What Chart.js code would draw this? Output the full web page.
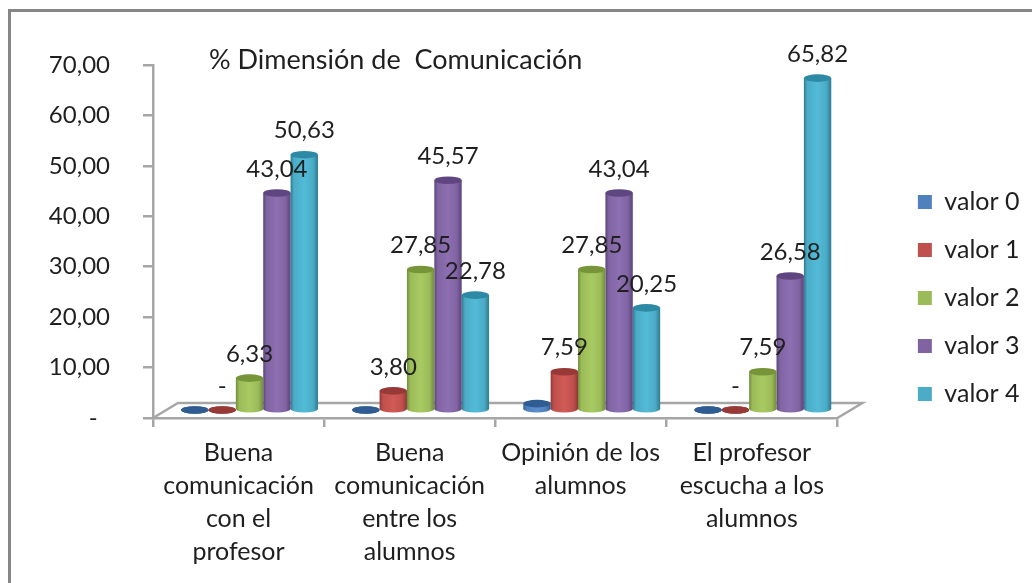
<!DOCTYPE html>
<html>
<head>
<meta charset="utf-8">
<style>
    html, body { margin: 0; padding: 0; background: #fff; }
    #box { position: absolute; left: 0; top: 0; width: 1032px; height: 583px; overflow: hidden; }
    #frame { position: absolute; left: 8px; top: 9px; width: 1100px; height: 600px; border: 3px solid #868686; }
    canvas { position: absolute; left: 0; top: 0; }
</style>
</head>
<body>
<div id="box">
    <div id="frame"></div>
    <canvas id="chart" width="1032" height="583"></canvas>
</div>
<script src="https://cdn.jsdelivr.net/npm/chart.js@4"></script>
<script>
const categories = [
    ["Buena", "comunicación", "con el", "profesor"],
    ["Buena", "comunicación", "entre los", "alumnos"],
    ["Opinión de los", "alumnos"],
    ["El profesor", "escucha a los", "alumnos"]
];
const valor0 = [0, 0, 1.27, 0];
const valor1 = [0, 3.80, 7.59, 0];
const valor2 = [6.33, 27.85, 27.85, 7.59];
const valor3 = [43.04, 45.57, 43.04, 26.58];
const valor4 = [50.63, 22.78, 20.25, 65.82];
const seriesNames = ["valor 0", "valor 1", "valor 2", "valor 3", "valor 4"];
const seriesColors = ["#4f81bd", "#c0504d", "#9bbb59", "#8064a2", "#4bacc6"];
const seriesLight = ["#5b8fcc", "#d05a56", "#a8ca62", "#8d6fb2", "#52bbd7"];
const seriesDark = ["#2f5d93", "#973a37", "#769438", "#5f4681", "#2c8aa5"];
const seriesEdge = ["#34608f", "#8f3835", "#6f8c3c", "#5a4379", "#2f7a90"];
const chartTitle = "% Dimensión de  Comunicación";

const FONT = "Lato";
const TEXT = "#1f1f1f";
const GRAY = "#a6a6a6";
const DEPTH_X = 11, DEPTH_Y = -8;  // bars stand on the floor, back from the axis line

function fmt(v) {
    return v.toFixed(2).replace(".", ",");
}

function ellipse(ctx, x, y, w, color) {
    ctx.fillStyle = color;
    ctx.beginPath();
    ctx.ellipse(x, y, w / 2, 3.8, 0, 0, Math.PI * 2);
    ctx.fill();
}

const cylinders = {
    id: "cylinders",
    beforeDatasetsDraw(chart) {
        const ctx = chart.ctx, a = chart.chartArea;
        // floor
        ctx.save();
        ctx.strokeStyle = GRAY;
        ctx.lineWidth = 2.5;
        ctx.beginPath();
        ctx.moveTo(a.left, a.bottom);
        ctx.lineTo(a.left + 25, a.bottom - 15);
        ctx.lineTo(a.right + 25, a.bottom - 15);
        ctx.lineTo(a.right, a.bottom);
        ctx.stroke();
        ctx.restore();
        ctx.save();
        ctx.translate(DEPTH_X, DEPTH_Y);
    },
    beforeDatasetDraw(chart, args) {
        const ctx = chart.ctx, i = args.index;
        args.meta.data.forEach(el => {
            const hw = el.width / 2;
            const g = ctx.createLinearGradient(el.x - hw, 0, el.x + hw, 0);
            g.addColorStop(0, seriesEdge[i]);
            g.addColorStop(0.12, seriesColors[i]);
            g.addColorStop(0.5, seriesLight[i]);
            g.addColorStop(0.82, seriesColors[i]);
            g.addColorStop(1, seriesEdge[i]);
            el.options = Object.assign({}, el.options, { backgroundColor: g });
            ellipse(ctx, el.x, el.base, el.width, el.height > 0.5 ? g : seriesDark[i]);
        });
    },
    afterDatasetDraw(chart, args) {
        const ctx = chart.ctx, i = args.index;
        args.meta.data.forEach(el => {
            ellipse(ctx, el.x, el.y, el.width, seriesDark[i]);
        });
    },
    afterDatasetsDraw(chart) {
        const ctx = chart.ctx;
        // value labels, valor 0 has none in the original
        ctx.fillStyle = TEXT;
        ctx.font = "24px " + FONT;
        ctx.textAlign = "center";
        ctx.textBaseline = "middle";
        for (let d = 1; d < 5; d++) {
            const meta = chart.getDatasetMeta(d);
            meta.data.forEach((el, k) => {
                const v = chart.data.datasets[d].data[k];
                ctx.fillText(v === 0 ? "-" : fmt(v), el.x, el.y - 24);
            });
        }
        ctx.restore();
        ctx.fillStyle = TEXT;
        ctx.font = "27px " + FONT;
        ctx.textAlign = "left";
        ctx.textBaseline = "middle";
        ctx.fillText(chartTitle, 209, 60);
    }
};

const allSeries = [valor0, valor1, valor2, valor3, valor4];

new Chart(document.getElementById("chart"), {
    type: "bar",
    data: {
        labels: categories,
        datasets: allSeries.map((s, i) => ({
            label: seriesNames[i],
            data: s,
            backgroundColor: seriesColors[i],
            borderWidth: 0,
            categoryPercentage: 0.8,
            barPercentage: 1,
            clip: false
        }))
    },
    plugins: [cylinders],
    options: {
        responsive: false,
        animation: false,
        layout: { padding: { left: 0, right: 2.5, top: 13, bottom: 0 } },
        plugins: {
            title: { display: false },
            tooltip: { enabled: false },
            legend: {
                position: "right",
                onClick: null,
                labels: {
                    boxWidth: 14,
                    boxHeight: 14,
                    padding: 23,
                    color: TEXT,
                    font: { family: FONT, size: 25 }
                }
            }
        },
        scales: {
            x: {
                grid: { drawOnChartArea: false, color: GRAY, lineWidth: 2.5, tickLength: 9 },
                border: { color: GRAY, width: 2.5 },
                ticks: {
                    autoSkip: false,
                    maxRotation: 0,
                    padding: 9,
                    color: TEXT,
                    font: { family: FONT, size: 25, lineHeight: 33 / 25 }
                },
                afterFit(s) { s.height = 165; }
            },
            y: {
                min: 0,
                max: 70,
                grid: { drawOnChartArea: false, color: GRAY, lineWidth: 2.5, tickLength: 10 },
                border: { color: GRAY, width: 2.5 },
                ticks: {
                    stepSize: 10,
                    padding: 33,
                    color: TEXT,
                    font: { family: FONT, size: 24 },
                    callback: v => v === 0 ? "-  " : fmt(v)
                },
                afterFit(s) { s.width = 153; }
            },
            // empty axes, they only keep room around the plot
            gapRight: {
                position: "right",
                grid: { display: false },
                border: { display: false },
                ticks: { display: false },
                afterFit(s) { s.width = 57.5; }
            },
            gapTop: {
                position: "top",
                grid: { display: false },
                border: { display: false },
                ticks: { display: false },
                afterFit(s) { s.height = 52; }
            }
        }
    }
});
</script>
</body>
</html>
